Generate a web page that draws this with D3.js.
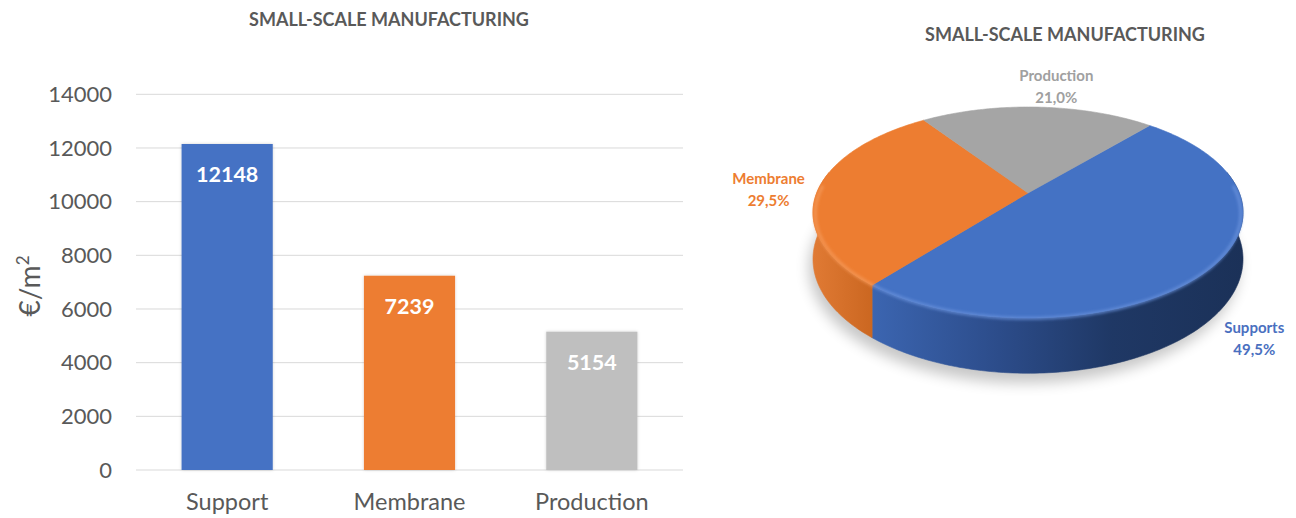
<!DOCTYPE html>
<html>
<head>
<meta charset="utf-8">
<script src="https://cdn.jsdelivr.net/npm/d3@7"></script>
<style>
  html, body { margin: 0; padding: 0; background: #fff; }
  svg { display: block; font-family: Lato, "Open Sans", sans-serif; }
</style>
</head>
<body>
<svg id="chart" width="1296" height="518"></svg>
<script>
// Cost breakdown, €/m²
const categories = ["Support", "Membrane", "Production"];
const pieLabels = ["Supports", "Membrane", "Production"];
const costs = [12148, 7239, 5154];
const yTicks = [0, 2000, 4000, 6000, 8000, 10000, 12000, 14000];
const colors = ["#4472C4", "#ED7D31", "#BFBFBF"];
const pieColors = ["#4472C4", "#ED7D31", "#A5A5A5"];
const labelColors = ["#4A6FBF", "#ED7D31", "#A0A0A0"];
const titleText = "SMALL-SCALE MANUFACTURING";

const svg = d3.select("#chart");
const defs = svg.append("defs");
const textColor = "#595959";

// ---------- bar chart ----------
const plot = { left: 136, right: 683, top: 94.3, bottom: 470 };
const x = d3.scaleBand().domain(categories).range([plot.left, plot.right])
  .paddingInner(0.5).paddingOuter(0.25);
const y = d3.scaleLinear().domain([0, 14000]).range([plot.bottom, plot.top]);

const barShadow = defs.append("filter").attr("id", "barShadow")
  .attr("x", "-20%").attr("y", "-20%").attr("width", "140%").attr("height", "140%");
barShadow.append("feDropShadow").attr("dx", 0).attr("dy", 0).attr("stdDeviation", 1.5)
  .attr("flood-color", "#000").attr("flood-opacity", 0.18);

svg.append("text").attr("x", 389).attr("y", 26).attr("text-anchor", "middle")
  .attr("font-size", 18).attr("font-weight", 700).attr("fill", textColor).text(titleText);

// gridlines
svg.append("g").selectAll("line").data(yTicks).join("line")
  .attr("x1", plot.left).attr("x2", plot.right)
  .attr("y1", d => y(d)).attr("y2", d => y(d))
  .attr("stroke", "#D9D9D9").attr("stroke-width", 1);

// y axis
const yAxis = svg.append("g").attr("transform", `translate(${plot.left - 24},0)`)
  .call(d3.axisLeft(y).tickValues(yTicks).tickSize(0).tickPadding(0).tickFormat(d3.format("d")));
yAxis.select(".domain").remove();
yAxis.selectAll("text").attr("font-size", 22).attr("fill", textColor)
  .attr("font-family", "Lato, sans-serif");

// x axis labels
const xAxis = svg.append("g").attr("transform", `translate(0,${plot.bottom})`)
  .call(d3.axisBottom(x).tickSize(0).tickPadding(23));
xAxis.select(".domain").remove();
xAxis.selectAll("text").attr("font-size", 23.5).attr("fill", textColor)
  .attr("font-family", "Lato, sans-serif");

// y axis title
const yTitle = svg.append("text").attr("transform", "translate(40,286) rotate(-90)")
  .attr("text-anchor", "middle").attr("font-size", 28).attr("fill", textColor);
yTitle.append("tspan").text("€/m");
yTitle.append("tspan").attr("font-size", 17).attr("dy", -11).text("2");

// bars
svg.append("g").selectAll("rect").data(costs).join("rect")
  .attr("x", (d, i) => x(categories[i]))
  .attr("width", x.bandwidth())
  .attr("y", d => y(d))
  .attr("height", d => y(0) - y(d))
  .attr("fill", (d, i) => colors[i])
  .attr("filter", "url(#barShadow)");

svg.append("g").selectAll("text").data(costs).join("text")
  .attr("x", (d, i) => x(categories[i]) + x.bandwidth() / 2)
  .attr("y", d => y(d) + 38)
  .attr("text-anchor", "middle").attr("font-size", 21.5).attr("font-weight", 700)
  .attr("fill", "#fff").text(d => d);

// ---------- 3D pie ----------
svg.append("text").attr("x", 1065).attr("y", 41).attr("text-anchor", "middle")
  .attr("font-size", 18).attr("font-weight", 700).attr("fill", textColor).text(titleText);

const cx = 1028, cy = 193, R = 211.3, B = 101.9, persp = 0.185, H = 45;
const rad = d => d * Math.PI / 180;
// project a point on the disk (angle clockwise from the far side, radius fraction, drop below top face)
function proj(deg, r, h) {
  const X = r * Math.sin(rad(deg)), Z = -r * Math.cos(rad(deg));
  const w = 1 / (1 - persp * Z);
  return [cx + R * X * w, cy + B * Z * w + h * w];
}
const startDeg = 41;
const pie = d3.pie().sort(null).startAngle(rad(startDeg)).endAngle(rad(startDeg + 360));
const arcs = pie(costs).map((a, i) => ({
  i, a0: a.startAngle * 180 / Math.PI, a1: a.endAngle * 180 / Math.PI, value: a.value
}));
const total = d3.sum(costs);

function arcPts(a0, a1, r, h) {
  const n = Math.max(2, Math.ceil(Math.abs(a1 - a0) / 1));
  return d3.range(n + 1).map(k => proj(a0 + (a1 - a0) * k / n, r, h));
}
const line = d3.line();

// soft shadow under the pie
const shadow = defs.append("filter").attr("id", "pieShadow")
  .attr("x", "-20%").attr("y", "-20%").attr("width", "140%").attr("height", "140%");
shadow.append("feGaussianBlur").attr("stdDeviation", 7);
svg.append("path")
  .attr("d", line(arcPts(0, 360, 1.0, H + 8)) + "Z")
  .attr("transform", "translate(-4,0)")
  .attr("fill", "#000").attr("opacity", 0.22).attr("filter", "url(#pieShadow)");

// side wall gradients
const sideGrad = [
  [["0%", "#3C66B2"], ["35%", "#2C4C8A"], ["65%", "#1F3865"], ["100%", "#1B3158"]],
  [["0%", "#E07A34"], ["100%", "#C9651F"]],
  [["0%", "#8E8E8E"], ["100%", "#6E6E6E"]]
];
const gradExtents = [[cx - 160, cx + 215], [cx - 215, cx - 150], [cx - 215, cx + 215]];
sideGrad.forEach((stops, i) => {
  const g = defs.append("linearGradient").attr("id", "side" + i)
    .attr("gradientUnits", "userSpaceOnUse")
    .attr("x1", gradExtents[i][0]).attr("x2", gradExtents[i][1]).attr("y1", 0).attr("y2", 0);
  stops.forEach(s => g.append("stop").attr("offset", s[0]).attr("stop-color", s[1]));
});

// visible side walls: front half of the cylinder
const sideG = svg.append("g");
arcs.forEach(s => {
  const a0 = s.a0, a1 = s.a1;
  [[90, 270], [450, 630]].forEach(([lo, hi]) => {
    const b0 = Math.max(a0, lo - 12), b1 = Math.min(a1, hi + 12);
    if (b1 > b0) {
      const top = arcPts(b0, b1, 1, 0);
      const bot = arcPts(b1, b0, 1, H);
      sideG.append("path").attr("d", line(top.concat(bot)) + "Z")
        .attr("fill", `url(#side${s.i})`).attr("stroke", `url(#side${s.i})`).attr("stroke-width", 0.6);
    }
  });
});

// top faces
const topG = svg.append("g");
arcs.forEach(s => {
  const pts = [proj(0, 0, 0)].concat(arcPts(s.a0, s.a1, 1, 0));
  topG.append("path").attr("d", line(pts) + "Z")
    .attr("fill", pieColors[s.i]).attr("stroke", pieColors[s.i]).attr("stroke-width", 0.6);
});

// bevel highlight along the front rim
const bevel = defs.append("filter").attr("id", "bevelBlur");
bevel.append("feGaussianBlur").attr("stdDeviation", 1.6);
const rimColors = ["#6A93DD", "#F59A5A", "#C0C0C0"];
arcs.forEach(s => {
  [[90, 270], [450, 630]].forEach(([lo, hi]) => {
    const b0 = Math.max(s.a0, lo - 5), b1 = Math.min(s.a1, hi + 5);
    if (b1 > b0) {
      topG.append("path").attr("d", line(arcPts(b0, b1, 0.99, 1.5)))
        .attr("fill", "none").attr("stroke", rimColors[s.i]).attr("stroke-width", 3)
        .attr("opacity", 0.8).attr("filter", "url(#bevelBlur)");
    }
  });
});

// slice labels: front slices sit beside the wall, back slices above the rim
const fmtPct = v => d3.format(".1f")(v * 100).replace(".", ",") + "%";
const labelG = svg.append("g").attr("font-weight", 700).attr("font-size", 15)
  .attr("text-anchor", "middle");
arcs.forEach(s => {
  const mid = (s.a0 + s.a1) / 2;
  const Z = -Math.cos(rad(mid));
  let lx, ly;
  if (Z > 0.3) [lx, ly] = proj(mid, 1.2, H);
  else if (Z < -0.3) [lx, ly] = proj(mid + 4, 1.33, 0);
  else [lx, ly] = proj(mid, 1.24, 0);
  const t = labelG.append("text").attr("x", lx).attr("y", ly).attr("fill", labelColors[s.i]);
  t.append("tspan").attr("x", lx).attr("dy", -4).text(pieLabels[s.i]);
  t.append("tspan").attr("x", lx).attr("dy", 22).text(fmtPct(s.value / total));
});
</script>
</body>
</html>
